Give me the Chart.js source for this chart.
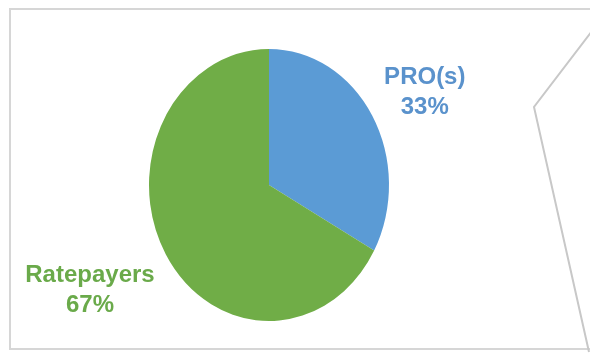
<!DOCTYPE html>
<html>
<head>
<meta charset="utf-8">
<script src="https://cdn.jsdelivr.net/npm/chart.js@4.4.0/dist/chart.umd.min.js"></script>
<style>
  html, body { margin: 0; padding: 0; background: #fff; }
  #wrap { width: 590px; height: 360px; position: relative; }
</style>
</head>
<body>
<div id="wrap"><canvas id="shareChart" width="590" height="360"></canvas></div>
<script>
const categories = ["PRO(s)", "Ratepayers"];
const shares = [33, 67];
const sliceColors = ["#5B9BD5", "#70AD47"];
const labelColors = ["#5A92CC", "#6AAA4A"];

// pie is drawn a little taller than wide
const stretchY = 272 / 240;

// frame round the chart plus the connector lines at the right
const framePlugin = {
  id: "frame",
  beforeDraw(chart) {
    const c = chart.ctx;
    c.save();
    c.strokeStyle = "#D6D6D6";
    c.lineWidth = 2;
    c.beginPath();
    c.moveTo(592, 9);
    c.lineTo(10, 9);
    c.lineTo(10, 349);
    c.lineTo(592, 349);
    c.stroke();
    c.strokeStyle = "#C8C8C8";
    c.beginPath();
    c.moveTo(592, 31);
    c.lineTo(534, 107);
    c.lineTo(589, 352);
    c.stroke();
    c.restore();
  },
};

const stretchPlugin = {
  id: "stretch",
  beforeDatasetsDraw(chart) {
    const arc = chart.getDatasetMeta(0).data[0];
    const c = chart.ctx;
    c.save();
    c.translate(arc.x, arc.y);
    c.scale(1, stretchY);
    c.translate(-arc.x, -arc.y);
  },
  afterDatasetsDraw(chart) {
    chart.ctx.restore();
  },
};

// category name and percent outside each slice
const outsideLabels = {
  id: "outsideLabels",
  afterDatasetsDraw(chart, args, opts) {
    const c = chart.ctx;
    const meta = chart.getDatasetMeta(0);
    const total = shares.reduce((a, b) => a + b, 0);
    c.save();
    c.font = "bold 24px 'Liberation Sans', Arial, sans-serif";
    c.textAlign = "center";
    c.textBaseline = "middle";
    meta.data.forEach((arc, i) => {
      const mid = (arc.startAngle + arc.endAngle) / 2;
      const r = arc.outerRadius + opts.offsets[i];
      const x = arc.x + Math.cos(mid) * r;
      const y = arc.y + Math.sin(mid) * r * stretchY * opts.squeeze[i];
      const pct = Math.round((shares[i] / total) * 100) + "%";
      c.fillStyle = labelColors[i];
      c.fillText(categories[i], x, y - 15);
      c.fillText(pct, x, y + 15);
    });
    c.restore();
  },
};

const ctx = document.getElementById("shareChart").getContext("2d");
const shareChart = new Chart(ctx, {
  type: "pie",
  data: {
    labels: categories,
    datasets: [
      {
        data: shares,
        backgroundColor: sliceColors,
        borderWidth: 0,
      },
    ],
  },
  options: {
    responsive: false,
    animation: false,
    layout: {
      padding: { left: 149, right: 201, top: 65, bottom: 55 },
    },
    plugins: {
      legend: { display: false },
      tooltip: { enabled: false },
      outsideLabels: { offsets: [61, 88], squeeze: [0.89, 0.88] },
    },
  },
  plugins: [framePlugin, stretchPlugin, outsideLabels],
});
</script>
</body>
</html>
